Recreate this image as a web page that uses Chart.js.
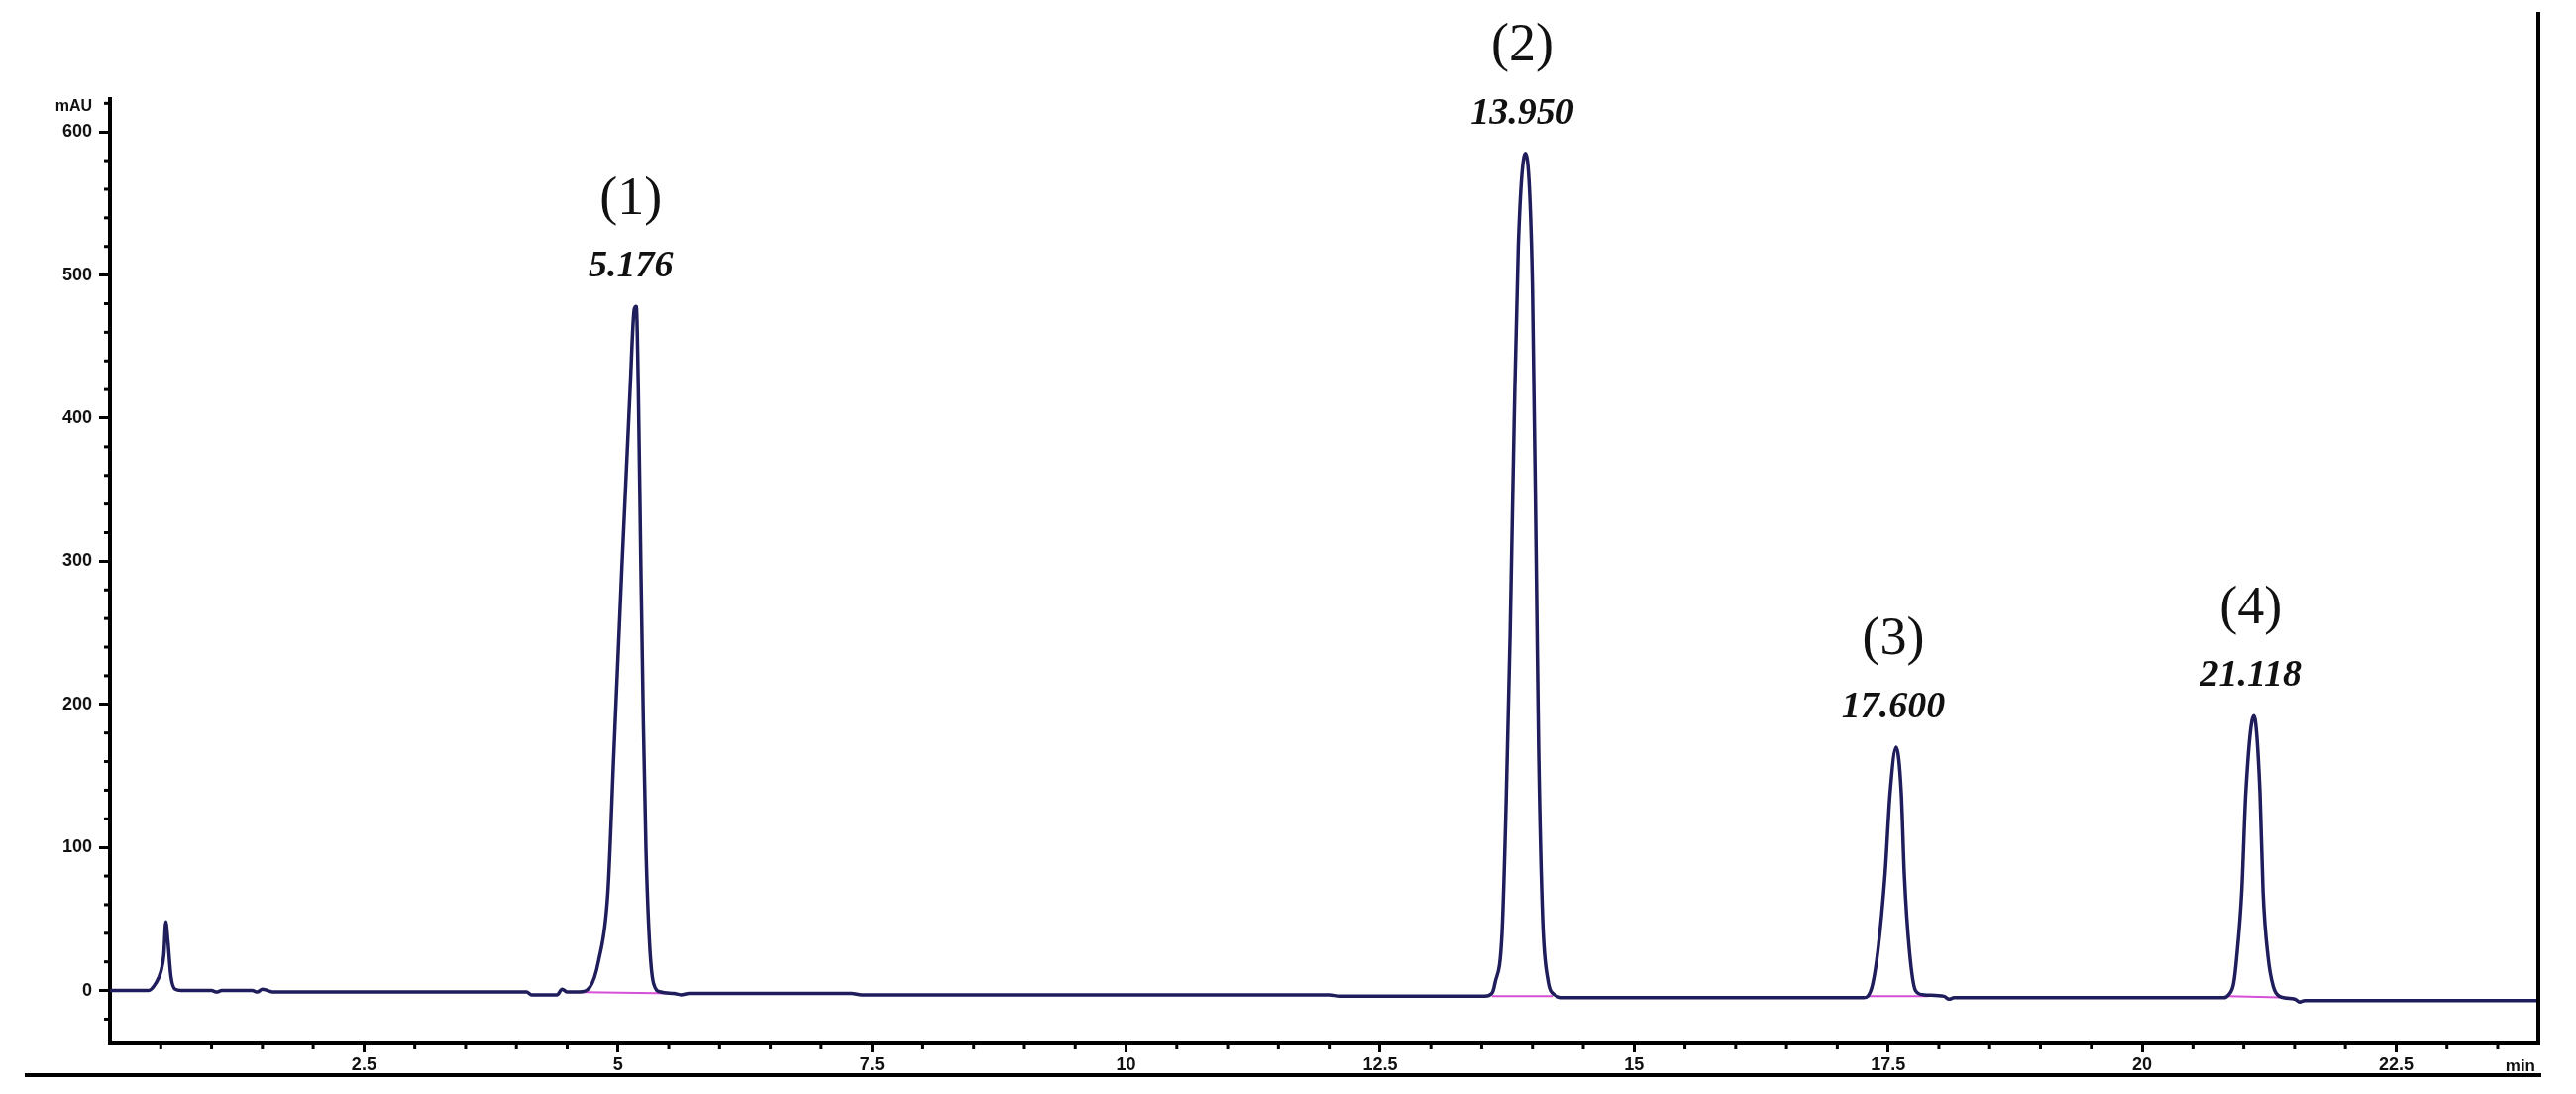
<!DOCTYPE html>
<html>
<head>
<meta charset="utf-8">
<script src="https://cdn.jsdelivr.net/npm/chart.js@4.4.1/dist/chart.umd.min.js"></script>
<style>
  html, body { margin: 0; padding: 0; background: #fff; }
  #wrap { width: 2600px; height: 1104px; position: relative; }
</style>
</head>
<body>
<div id="wrap"><canvas id="chromato"></canvas></div>
<script>
const time = [
  0, 0.38, 0.45, 0.5, 0.53, 0.55, 0.57, 0.6, 0.64, 0.7,
  1.0, 1.05, 1.1, 1.4, 1.45, 1.5, 1.55, 1.6,
  4.1, 4.15, 4.4, 4.45, 4.5,
  4.62, 4.72, 4.81, 4.9, 4.96, 5.04, 5.12, 5.16, 5.18, 5.2, 5.225, 5.25, 5.275, 5.31, 5.35, 5.42, 5.55, 5.62, 5.7,
  7.3, 7.4, 12.0, 12.1,
  13.53, 13.6, 13.63, 13.7, 13.74, 13.78, 13.82, 13.86, 13.93, 13.97, 14.0, 14.04, 14.06, 14.1, 14.15, 14.22, 14.31,
  17.26, 17.3, 17.35, 17.4, 17.47, 17.52, 17.58, 17.63, 17.66, 17.71, 17.77, 17.85, 18.05, 18.1, 18.15,
  20.8, 20.85, 20.9, 20.93, 20.98, 21.02, 21.1, 21.16, 21.19, 21.24, 21.29, 21.35, 21.5, 21.55, 21.6,
  23.9
];
const signal = [
  0, 0, 5, 13, 25, 48, 35, 10, 1, 0,
  0, -1, 0, 0, -1, 1, 0, -1,
  -1, -3, -3, 1, -1,
  -1, 2, 21, 68, 167, 298, 421, 476, 478, 421, 298, 186, 100, 34, 5, -1, -2, -3, -2,
  -2, -3, -3, -4,
  -4, -2, 5, 40, 130, 250, 400, 520, 585, 560, 490, 280, 170, 50, 8, -3, -5,
  -5, -4, 5, 28, 81, 138, 170, 138, 81, 28, 0, -3, -4, -6, -5,
  -5, -3, 5, 23, 69, 138, 192, 138, 69, 23, 3, -4, -6, -8, -7,
  -7
];

// Lignes de base d'intégration (début, fin, niveau)
const baseStart = [4.5, 13.6, 17.3, 20.85];
const baseEnd = [5.55, 14.2, 17.9, 21.45];
const baseLevelStart = [-1, -4, -4, -4];
const baseLevelEnd = [-2, -4, -4, -5];

// Pics annotés
const peakNames = ['(1)', '(2)', '(3)', '(4)'];
const peakTimes = [5.176, 13.950, 17.600, 21.118];
const peakLabels = ['5.176', '13.950', '17.600', '21.118'];
const peakHeights = [478, 585, 170, 192];

// Graduations
const xMajor = [2.5, 5, 7.5, 10, 12.5, 15, 17.5, 20, 22.5];
const xLabels = ['2.5', '5', '7.5', '10', '12.5', '15', '17.5', '20', '22.5'];
const xMinorStep = 0.5;
const yMajor = [0, 100, 200, 300, 400, 500, 600];
const yMinorStep = 20;
const xMin = 0, xMax = 23.9;
const yMin = -37, yMax = 623;

const traceData = time.map((t, i) => ({ x: t, y: signal[i] }));

const baseDatasets = baseStart.map((s, i) => ({
  data: [{ x: s, y: baseLevelStart[i] }, { x: baseEnd[i], y: baseLevelEnd[i] }],
  borderColor: '#d64fd6',
  borderWidth: 2,
  pointRadius: 0,
  tension: 0
}));

const tickFont = { family: '"Liberation Sans", Arial, sans-serif', size: 18, weight: 'bold' };

// Petites graduations, cadre, unités et annotations des pics
const decorPlugin = {
  id: 'decor',
  afterDraw(chart) {
    const ctx = chart.ctx;
    const area = chart.chartArea;
    const xs = chart.scales.x;
    const ys = chart.scales.y;
    ctx.save();
    ctx.strokeStyle = '#000';
    ctx.lineWidth = 3;

    // graduations mineures
    for (let v = Math.ceil(yMin / yMinorStep) * yMinorStep; v <= yMax; v += yMinorStep) {
      if (yMajor.includes(v)) continue;
      const py = ys.getPixelForValue(v);
      ctx.beginPath();
      ctx.moveTo(area.left - 6, py);
      ctx.lineTo(area.left, py);
      ctx.stroke();
    }
    for (let v = xMinorStep; v < xMax; v += xMinorStep) {
      if (xMajor.some(m => Math.abs(m - v) < 1e-6)) continue;
      const px = xs.getPixelForValue(v);
      ctx.beginPath();
      ctx.moveTo(px, area.bottom);
      ctx.lineTo(px, area.bottom + 6);
      ctx.stroke();
    }

    // cadre droit et trait du bas
    ctx.lineWidth = 4;
    ctx.beginPath();
    ctx.moveTo(area.right, 12);
    ctx.lineTo(area.right, area.bottom + 2);
    ctx.stroke();
    ctx.beginPath();
    ctx.moveTo(25, 1085);
    ctx.lineTo(area.right + 3, 1085);
    ctx.stroke();

    // unités
    ctx.fillStyle = '#111';
    ctx.font = 'bold 16px "Liberation Sans", Arial, sans-serif';
    ctx.textAlign = 'right';
    ctx.textBaseline = 'middle';
    ctx.fillText('mAU', area.left - 18, area.top + 8);
    ctx.font = 'bold 17px "Liberation Sans", Arial, sans-serif';
    ctx.fillText('min', area.right - 3, area.bottom + 23);

    // annotations
    ctx.textAlign = 'center';
    peakTimes.forEach((t, i) => {
      const px = xs.getPixelForValue(t) - 5;
      const top = ys.getPixelForValue(peakHeights[i]);
      ctx.font = 'bold italic 38px "Liberation Serif", "Times New Roman", serif';
      ctx.fillText(peakLabels[i], px, top - 40);
      ctx.font = '54px "Liberation Serif", "Times New Roman", serif';
      ctx.fillText(peakNames[i], px, top - 108);
    });
    ctx.restore();
  }
};

new Chart(document.getElementById('chromato'), {
  type: 'line',
  data: {
    datasets: [{
      data: traceData,
      borderColor: '#1f1d5c',
      borderWidth: 3.5,
      pointRadius: 0,
      cubicInterpolationMode: 'monotone'
    }].concat(baseDatasets)
  },
  options: {
    responsive: true,
    maintainAspectRatio: false,
    animation: false,
    layout: { padding: { left: 0, top: 100, right: 38, bottom: 0 } },
    plugins: {
      legend: { display: false },
      tooltip: { enabled: false }
    },
    scales: {
      x: {
        type: 'linear',
        min: xMin,
        max: xMax,
        afterBuildTicks: s => { s.ticks = xMajor.map(v => ({ value: v })); },
        afterFit: s => { s.height = 51; },
        ticks: {
          callback: (v, i) => xLabels[i],
          font: tickFont,
          color: '#111',
          padding: 2,
          maxRotation: 0,
          autoSkip: false
        },
        grid: { drawOnChartArea: false, tickLength: 9, tickWidth: 3, tickColor: '#000' },
        border: { color: '#000', width: 4 }
      },
      y: {
        min: yMin,
        max: yMax,
        afterBuildTicks: s => { s.ticks = yMajor.map(v => ({ value: v })); },
        afterFit: s => { s.width = 111; },
        ticks: {
          callback: v => String(v),
          font: tickFont,
          color: '#111',
          padding: 7
        },
        grid: { drawOnChartArea: false, tickLength: 11, tickWidth: 3, tickColor: '#000' },
        border: { color: '#000', width: 4 }
      }
    }
  },
  plugins: [decorPlugin]
});
</script>
</body>
</html>
